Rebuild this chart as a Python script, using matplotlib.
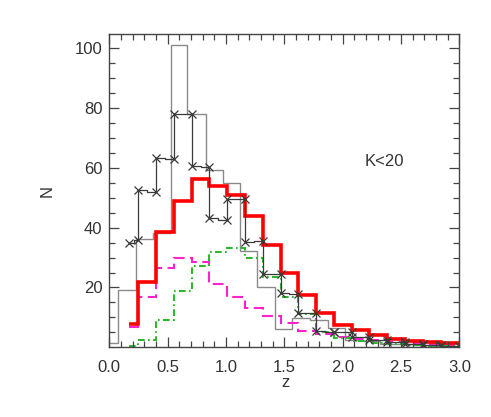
import numpy as np
import matplotlib
matplotlib.use("Agg")
import matplotlib.pyplot as plt

plt.rcParams['font.family'] = ['Liberation Sans', 'DejaVu Sans']

# thin grey histogram (own binning, starts at z=0)
grey_edges = [0.0, 0.071, 0.226, 0.377, 0.526, 0.668, 0.826, 0.977, 1.12, 1.268,
              1.42, 1.568, 1.72, 1.87, 2.02, 2.17, 2.32, 2.47, 2.62, 2.77, 2.92, 3.0]
grey_n = [1.3, 19.1, 36.1, 38.1, 101.0, 77.9, 59.2, 55.0, 32.2, 20.2,
          6.1, 9.8, 9.0, 6.5, 2.5, 2.0, 1.2, 1.0, 0.8, 0.4, 0.3]

# common binning of the other four curves
z_edges = [0.171, 0.249, 0.401, 0.554, 0.706, 0.858, 1.010, 1.163, 1.315, 1.467,
           1.620, 1.772, 1.924, 2.077, 2.229, 2.381, 2.534, 2.686, 2.838, 3.0]

red_n = [7.8, 21.7, 38.5, 48.9, 56.4, 53.9, 50.9, 43.9, 34.3, 25.0,
         17.4, 11.5, 7.3, 5.7, 4.2, 2.9, 2.2, 1.9, 1.3]

# black line with crosses: value at left and right end of each step
black_left = [35.0, 52.5, 63.2, 77.9, 60.5, 43.3, 49.7, 35.2, 24.4, 18.0,
              11.6, 5.4, 5.2, 3.4, 2.3, 1.6, 1.2, 0.8, 0.5]
black_right = [35.9, 51.9, 63.1, 77.9, 60.3, 42.5, 49.7, 35.6, 24.4, 17.8,
               11.3, 5.2, 5.0, 3.3, 2.3, 1.6, 1.2, 0.8, 0.5]

magenta_n = [6.7, 16.7, 26.5, 29.7, 28.6, 21.1, 16.8, 13.1, 10.5, 8.2,
             5.4, 4.3, 3.3, 2.8, 2.3, 1.8, 1.3, 1.0, 0.6]

green_n = [0.5, 2.4, 9.0, 18.9, 27.1, 31.9, 33.3, 29.9, 23.4, 16.7,
           11.0, 5.2, 3.0, 2.0, 1.4, 1.0, 0.7, 0.5, 0.3]

fig = plt.figure(figsize=(4.91, 4.17), dpi=100)
ax = fig.add_axes([0.2226, 0.1672, 0.7131, 0.7513])

ax.stairs(grey_n, grey_edges, baseline=None, color='#8a8a8a', lw=1.0)

# crosses line
e = np.array(z_edges)
mid = (e[:-1] + e[1:]) / 2
xs, ys = [], []
for i in range(len(black_left)):
    xs += [e[i], mid[i], mid[i], e[i + 1]]
    ys += [black_left[i], black_left[i], black_right[i], black_right[i]]
ax.plot(xs, ys, color='#3a3a3a', lw=0.9)
ax.plot(e[:-1], black_left, ls='none', marker='x', ms=5.5, mew=0.9, color='#3a3a3a')
ax.plot(e[1:], black_right, ls='none', marker='x', ms=5.5, mew=0.9, color='#3a3a3a')

ax.stairs(magenta_n, z_edges, baseline=None, color='#ff22cc', lw=1.5,
          linestyle=(0, (5.2, 2.6)))
ax.stairs(green_n, z_edges, baseline=None, color='#2db82d', lw=1.5,
          linestyle=(0, (3.2, 1.6, 0.8, 1.6)))
ax.stairs(red_n, z_edges, baseline=None, color='#ff0000', lw=2.6)

ax.set_xlim(0, 3.0)
ax.set_ylim(0, 104.8)
ax.set_xticks(np.arange(0, 3.01, 0.5))
ax.set_xticklabels(['0.0', '0.5', '1.0', '1.5', '2.0', '2.5', '3.0'])
ax.set_xticks(np.arange(0, 3.01, 0.1), minor=True)
ax.set_yticks([20, 40, 60, 80, 100])
ax.set_yticks(np.arange(5, 104, 5), minor=True)
ax.tick_params(which='both', direction='in', top=True, right=True,
               colors='#444444', labelcolor='#333333', labelsize=12)
ax.tick_params(which='major', length=7, width=0.9)
ax.tick_params(which='minor', length=4, width=0.9)
ax.tick_params(axis='x', pad=9)
ax.tick_params(axis='y', pad=5)
for s in ax.spines.values():
    s.set_color('#444444')
    s.set_linewidth(1.0)

ax.set_xlabel('z', fontsize=12, color='#333333')
ax.xaxis.set_label_coords(0.502, -0.127)
ax.xaxis.label.set_va('baseline')
ax.set_ylabel('N', fontsize=12, color='#333333')
ax.yaxis.set_label_coords(-0.1765, 0.5)
ax.yaxis.label.set_va('center')

ax.text(2.19, 62, 'K<20', fontsize=12, color='#333333', va='center')

fig.savefig('out.png', dpi=100)
